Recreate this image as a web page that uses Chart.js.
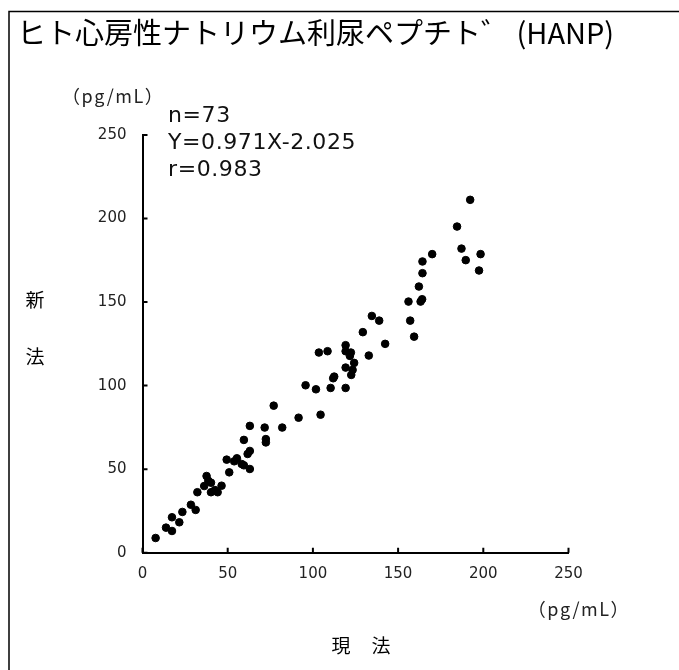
<!DOCTYPE html>
<html>
<head>
<meta charset="utf-8">
<script src="https://cdn.jsdelivr.net/npm/chart.js@4.4.0/dist/chart.umd.min.js"></script>
<style>
  html, body { margin: 0; padding: 0; background: #fff; }
  #wrap { width: 679px; height: 670px; }
</style>
</head>
<body>
<div id="wrap"><canvas id="chart" width="679" height="670"></canvas></div>
<script>
// 現法 (x) vs 新法 (y), pg/mL
const currentMethod = [
  7.7, 13.8, 17.3, 17.3, 21.6, 23.4, 28.4, 31.2, 32.2, 36.2,
  37.6, 38.6, 40.2, 42.5, 40.2, 44.1, 46.4, 49.4, 50.9, 53.8,
  55.4, 58.2, 59.5, 63.0, 61.7, 63.0, 59.5, 63.0, 71.7, 72.4,
  72.4, 77.0, 82.0, 91.6, 104.5, 95.7, 101.8, 110.4, 119.2, 112.5,
  111.9, 122.5, 123.3, 119.2, 124.2, 121.7, 122.3, 119.2, 119.2, 103.5,
  108.6, 132.8, 142.4, 129.3, 134.6, 138.9, 157.1, 159.4, 156.1, 163.2,
  164.1, 162.2, 192.3, 184.6, 170.0, 164.3, 164.3, 187.2, 189.7, 198.4,
  197.5
];
const newMethod = [
  8.8, 15.0, 13.0, 21.2, 18.2, 24.4, 28.7, 25.6, 36.2, 39.9,
  45.9, 43.1, 41.9, 37.5, 36.2, 36.2, 40.1, 55.7, 48.1, 54.7,
  56.5, 53.1, 52.3, 50.1, 59.1, 60.9, 67.5, 75.9, 74.9, 68.0,
  66.0, 88.0, 74.9, 80.8, 82.6, 100.2, 97.8, 98.6, 98.6, 105.4,
  104.4, 106.4, 109.4, 110.8, 113.6, 117.8, 119.8, 120.6, 124.2, 119.8,
  120.6, 118.0, 125.0, 132.0, 141.7, 138.9, 138.9, 129.3, 150.3, 150.3,
  151.7, 159.3, 211.2, 195.2, 178.7, 174.3, 167.3, 182.0, 175.1, 178.7,
  168.9
];
const tickValues = [0, 50, 100, 150, 200, 250];

const title = 'ヒト心房性ナトリウム利尿ペプチト゛ (HANP)';
const statLines = ['n=73', 'Y=0.971X-2.025', 'r=0.983'];
const unitLabel = '（pg/mL）';

const points = currentMethod.map((x, i) => ({ x: x, y: newMethod[i] }));

// ticks point inward, draw them ourselves from the scales
const decorations = {
  id: 'decorations',
  afterDraw(chart) {
    const ctx = chart.ctx;
    const xs = chart.scales.x;
    const ys = chart.scales.y;
    ctx.save();

    ctx.strokeStyle = '#000';
    ctx.lineWidth = 2;
    ctx.beginPath();
    tickValues.forEach(v => {
      const px = xs.getPixelForValue(v);
      ctx.moveTo(px, xs.top);
      ctx.lineTo(px, xs.top - 5);
      const py = ys.getPixelForValue(v);
      ctx.moveTo(ys.right, py);
      ctx.lineTo(ys.right + 5, py);
    });
    ctx.stroke();

    // frame
    ctx.lineWidth = 1.5;
    ctx.beginPath();
    ctx.moveTo(9, 670);
    ctx.lineTo(9, 11.5);
    ctx.lineTo(679, 11.5);
    ctx.stroke();

    ctx.fillStyle = '#000';
    ctx.textBaseline = 'alphabetic';
    ctx.textAlign = 'left';
    ctx.font = '29px "Noto Sans CJK JP"';
    ctx.fillText(title, 17, 44);

    ctx.fillStyle = '#111';
    ctx.font = '22px "DejaVu Sans"';
    ctx.letterSpacing = '0.6px';
    statLines.forEach((s, i) => ctx.fillText(s, 168, 122 + i * 27));

    ctx.fillStyle = '#222';
    ctx.font = '18px "Noto Sans CJK JP"';
    ctx.letterSpacing = '1.5px';
    ctx.textBaseline = 'middle';
    ctx.fillText(unitLabel, 62, 96);
    ctx.textAlign = 'right';
    ctx.fillText(unitLabel, 630, 609);
    ctx.letterSpacing = '0px';

    ctx.fillStyle = '#000';
    ctx.font = '19px "Noto Sans CJK JP"';
    ctx.textAlign = 'center';
    ctx.fillText('現', 341, 646);
    ctx.fillText('法', 381, 646);
    ctx.fillText('新', 35, 300);
    ctx.fillText('法', 35, 357);

    ctx.restore();
  }
};

new Chart(document.getElementById('chart'), {
  type: 'scatter',
  data: {
    datasets: [{
      data: points,
      backgroundColor: '#000',
      borderColor: '#000',
      pointRadius: 3.8,
      pointHoverRadius: 3.8
    }]
  },
  options: {
    responsive: false,
    animation: false,
    devicePixelRatio: 1,
    layout: { padding: { left: 0, top: 135, right: 110.5, bottom: 0 } },
    plugins: {
      legend: { display: false },
      tooltip: { enabled: false },
      title: { display: false }
    },
    scales: {
      x: {
        type: 'linear',
        min: 0,
        max: 250,
        afterFit: s => { s.height = 117.3; },
        afterBuildTicks: s => { s.ticks = tickValues.map(v => ({ value: v })); },
        grid: { drawOnChartArea: false, drawTicks: false },
        border: { display: true, color: '#000', width: 2 },
        ticks: {
          padding: 12,
          color: '#222',
          font: { family: 'DejaVu Sans', size: 15 }
        }
      },
      y: {
        type: 'linear',
        min: 0,
        max: 250,
        afterFit: s => { s.width = 142.5; },
        afterBuildTicks: s => { s.ticks = tickValues.map(v => ({ value: v })); },
        grid: { drawOnChartArea: false, drawTicks: false },
        border: { display: true, color: '#000', width: 2 },
        ticks: {
          padding: 16,
          color: '#222',
          font: { family: 'DejaVu Sans', size: 15 }
        }
      }
    }
  },
  plugins: [decorations]
});
</script>
</body>
</html>
